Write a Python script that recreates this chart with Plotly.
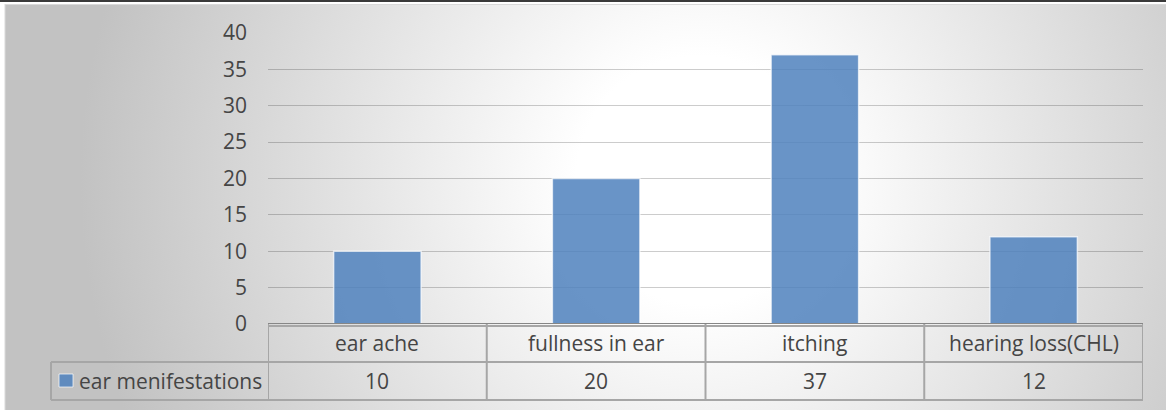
import base64
import plotly.graph_objects as go

# ---- data ----
categories = ["ear ache", "fullness in ear", "itching", "hearing loss(CHL)"]
values = [10, 20, 37, 12]
series_name = "ear menifestations"
y_ticks = [0, 5, 10, 15, 20, 25, 30, 35, 40]

# ---- layout geometry (pixels) ----
W, H = 1166, 410
L, R, T, B = 268, 23, 33, 86
PW, PH = W - L - R, H - T - B

def px(xp):
    return (xp - L) / PW

def py(yp):
    return (H - B - yp) / PH

FONT = "Open Sans"
TXT = "#454545"
FS = 21
BAR = "rgba(79,129,189,0.85)"

svg = f'''<svg xmlns="http://www.w3.org/2000/svg" width="{W}" height="{H}" viewBox="0 0 {W} {H}">
<defs><radialGradient id="g" gradientUnits="userSpaceOnUse" cx="700" cy="180" r="620">
<stop offset="0" stop-color="#ffffff"/><stop offset="0.2" stop-color="#ffffff"/><stop offset="1" stop-color="#c2c2c2"/>
</radialGradient></defs>
<rect width="{W}" height="{H}" fill="#ffffff"/>
<rect x="0" y="0" width="{W}" height="2" fill="#3a3a3a"/>
<rect x="5" y="4.5" width="{W + 10}" height="{H + 10}" fill="url(#g)" stroke="#d9d9d9" stroke-width="1"/>
</svg>'''
src = "data:image/svg+xml;base64," + base64.b64encode(svg.encode()).decode()

fig = go.Figure()
fig.add_trace(go.Bar(
    x=list(range(len(categories))), y=values, name=series_name,
    marker=dict(color=BAR, line=dict(color="rgba(255,255,255,0.7)", width=1.5)),
    hoverinfo="skip", showlegend=False,
))

shapes = []
line_c = "#a6a6a6"
# table horizontal lines
shapes.append(dict(type="line", xref="paper", yref="paper", x0=px(51), x1=1, y0=py(362), y1=py(362),
                   line=dict(color=line_c, width=2)))
shapes.append(dict(type="line", xref="paper", yref="paper", x0=px(51), x1=1, y0=py(400), y1=py(400),
                   line=dict(color=line_c, width=2)))
shapes.append(dict(type="line", xref="paper", yref="paper", x0=0, x1=1, y0=py(326), y1=py(326),
                   line=dict(color=line_c, width=2)))
# vertical lines at category boundaries
for b in [i - 0.5 for i in range(len(categories) + 1)]:
    shapes.append(dict(type="line", xref="x", yref="paper", x0=b, x1=b, y0=py(324), y1=py(400),
                       line=dict(color=line_c, width=2)))
shapes.append(dict(type="line", xref="paper", yref="paper", x0=px(51), x1=px(51), y0=py(362), y1=py(400),
                   line=dict(color=line_c, width=2)))
# axis line at zero
shapes.append(dict(type="line", xref="paper", yref="y", x0=0, x1=1, y0=0, y1=0,
                   line=dict(color="#868686", width=2)))
# legend key
shapes.append(dict(type="rect", xref="paper", yref="paper", x0=px(59), x1=px(73), y0=py(387), y1=py(374),
                   fillcolor=BAR, line=dict(color="rgba(255,255,255,0.7)", width=1)))

annotations = []
for i, (c, v) in enumerate(zip(categories, values)):
    annotations.append(dict(x=i, y=py(343), xref="x", yref="paper", text=c, showarrow=False,
                            xanchor="center", yanchor="middle", font=dict(family=FONT, size=FS, color=TXT)))
    annotations.append(dict(x=i, y=py(381), xref="x", yref="paper", text=str(v), showarrow=False,
                            xanchor="center", yanchor="middle", font=dict(family=FONT, size=FS, color=TXT)))
annotations.append(dict(x=px(77), y=py(381), xref="paper", yref="paper", text=series_name, showarrow=False,
                        xanchor="left", yanchor="middle", font=dict(family=FONT, size=FS, color=TXT)))

fig.update_layout(
    width=W, height=H,
    margin=dict(l=L, r=R, t=T, b=B, pad=0),
    paper_bgcolor="white", plot_bgcolor="rgba(0,0,0,0)",
    bargap=0.6,
    images=[dict(source=src, xref="paper", yref="paper", x=px(0), y=py(0),
                 sizex=W / PW, sizey=H / PH, xanchor="left", yanchor="top",
                 sizing="stretch", layer="below")],
    shapes=shapes, annotations=annotations,
    xaxis=dict(range=[-0.5, len(categories) - 0.5], showticklabels=False, showgrid=False,
               zeroline=False, showline=False, ticks=""),
    yaxis=dict(range=[0, 40], tickvals=y_ticks, showgrid=True, gridcolor="rgba(0,0,0,0.2)",
               gridwidth=1.3, zeroline=False, showline=False, ticks="", ticklabelstandoff=20,
               tickfont=dict(family=FONT, size=FS, color=TXT)),
    font=dict(family=FONT, color=TXT),
)

fig.write_html("out.html")
